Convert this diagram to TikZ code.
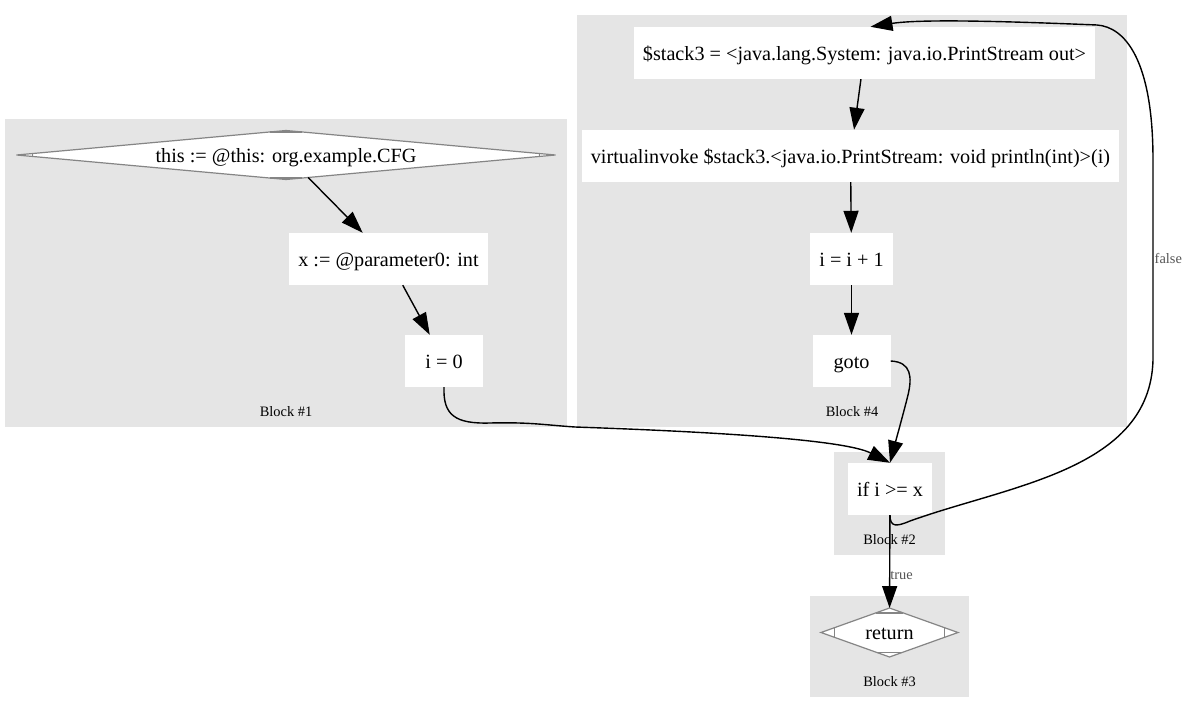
\documentclass[tikz,border=0pt]{standalone}
\usepackage{fontspec}
\setmainfont{Liberation Serif}
\usepackage{tikz}
\usepackage{xcolor}
\usetikzlibrary{shapes.geometric,arrows.meta,calc}
\definecolor{clustergray}{HTML}{E5E5E5}
\definecolor{mdgray}{HTML}{858585}
\definecolor{labelgray}{HTML}{555555}
\tikzset{
    stmt-box/.style = {fill=white, rectangle, inner xsep=9pt, inner ysep=0pt, text height=14pt, text depth=0pt, minimum width=78pt, minimum height=52pt, font=\fontsize{20.2}{24}\selectfont},
    stmt-diamond/.style = {draw=mdgray, fill=white, diamond, line width=1.2pt, inner sep=0pt, outer sep=0pt, text height=14pt, text depth=0pt, font=\fontsize{20.2}{24}\selectfont},
    md-mark/.style = {draw=mdgray, line width=1.2pt},
    cluster-box/.style = {fill=clustergray, rectangle, inner sep=0pt, outer sep=0pt},
    cluster-title/.style = {font=\fontsize{14.4}{17}\selectfont, inner sep=0pt},
    cfg-edge/.style = {-{Triangle[length=22pt,width=15pt]}, line width=1.4pt},
    edge-label/.style = {text=labelgray, font=\fontsize{14.4}{17}\selectfont, inner sep=0pt},
}

\begin{document}
\begin{tikzpicture}[x=1pt, y=-1pt]
\useasboundingbox (0,0) rectangle (1187,707);

% clusters
\node[cluster-box, minimum width=562pt, minimum height=308pt] (block1) at (286,273) {};
\node[cluster-box, minimum width=550pt, minimum height=412pt] (block4) at (852,221) {};
\node[cluster-box, minimum width=111pt, minimum height=103pt] (block2) at (889.5,503.5) {};
\node[cluster-box, minimum width=159pt, minimum height=101pt] (block3) at (889.5,646.5) {};
\foreach \b/\n in {block1/1, block2/2, block3/3, block4/4}
    \node[cluster-title] at ([yshift=15pt]\b.south) {Block \#\n};

% Block #1
\node[stmt-diamond, aspect=10, minimum width=539pt, minimum height=49pt] (this) at (286,155) {this := @this: org.example.CFG};
\node[stmt-box] (xparam) at (388.5,259) {x := @parameter0: int};
\node[stmt-box] (izero) at (444,361) {i = 0};

% Block #4
\node[stmt-box] (stack) at (864.5,53) {\$stack3 = <java.lang.System: java.io.PrintStream out>};
\node[stmt-box] (invoke) at (850.5,156) {virtualinvoke \$stack3.<java.io.PrintStream: void println(int)>(i)};
\node[stmt-box] (incr) at (851.5,259) {i = i + 1};
\node[stmt-box] (gotostmt) at (851.5,361) {goto};

% Block #2 and #3
\node[stmt-box] (ifstmt) at (890,489) {if i >= x};
\node[stmt-diamond, aspect=2.8, minimum width=137pt, minimum height=49pt] (ret) at (889.5,632.5) {return};

\foreach \d/\t in {this/0.06, ret/0.2} {
    \draw[md-mark] ($(\d.west)!\t!(\d.north)$) -- ($(\d.west)!\t!(\d.south)$);
    \draw[md-mark] ($(\d.east)!\t!(\d.north)$) -- ($(\d.east)!\t!(\d.south)$);
    \draw[md-mark] ($(\d.north)!\t!(\d.west)$) -- ($(\d.north)!\t!(\d.east)$);
    \draw[md-mark] ($(\d.south)!\t!(\d.west)$) -- ($(\d.south)!\t!(\d.east)$);
}

% edges
\draw[cfg-edge] (this) -- (xparam);
\draw[cfg-edge] (xparam) -- (izero);
\draw[cfg-edge] (stack) -- (invoke);
\draw[cfg-edge] (invoke) -- (incr);
\draw[cfg-edge] (incr) -- (gotostmt);
\draw[cfg-edge] (izero.south) .. controls (443,415) and (455,424) .. (490,423) .. controls (530,422) and (545,425) .. (575,427) .. controls (720,432) and (845,440) .. (ifstmt.north);
\draw[cfg-edge] (gotostmt.east) .. controls (912,362) and (912,378) .. (908,395) .. controls (903,415) and (896,440) .. (ifstmt.north);
\draw[cfg-edge] (ifstmt) -- (ret) node[edge-label, right=0pt, pos=0.65] {true};
\draw[cfg-edge] (ifstmt.south) .. controls (890,527) and (896,527) .. (910,521) .. controls (1010,485) and (1150,470) .. (1153,360) -- (1153,160) node[edge-label, right=1pt, pos=0.51] {false} .. controls (1153,60) and (1125,27) .. (1097,25) .. controls (1000,21) and (920,19) .. ([xshift=6pt]stack.north);
\end{tikzpicture}
\end{document}
